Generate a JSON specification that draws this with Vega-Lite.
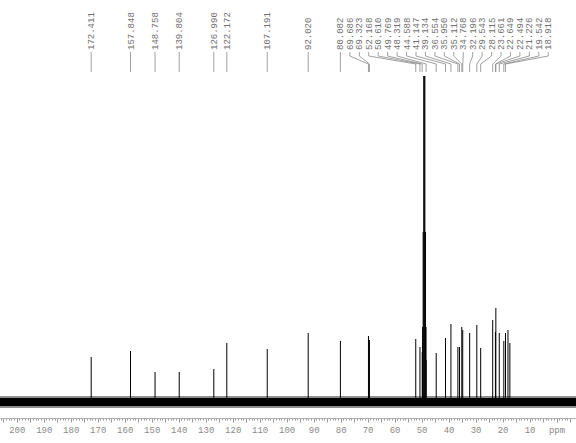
{
  "$schema": "https://vega.github.io/schema/vega-lite/v6.json",
  "width": 576,
  "height": 418,
  "autosize": {"type": "none"},
  "padding": {"left": 0, "top": 0, "right": 0, "bottom": 25},
  "background": "white",
  "config": {"view": {"stroke": null}},
  "data": {
    "values": [
      {"ppm": 172.411, "h": 45, "label": "172.411"},
      {"ppm": 157.848, "h": 51, "label": "157.848"},
      {"ppm": 148.758, "h": 30, "label": "148.758"},
      {"ppm": 139.804, "h": 30, "label": "139.804"},
      {"ppm": 126.99, "h": 33, "label": "126.990"},
      {"ppm": 122.172, "h": 59, "label": "122.172"},
      {"ppm": 107.191, "h": 53, "label": "107.191"},
      {"ppm": 92.02, "h": 69, "label": "92.020"},
      {"ppm": 80.082, "h": 61, "label": "80.082"},
      {"ppm": 69.686, "h": 66, "label": "69.686"},
      {"ppm": 69.323, "h": 62, "label": "69.323"},
      {"ppm": 52.168, "h": 63, "label": "52.168"},
      {"ppm": 50.61, "h": 55, "label": "50.610"},
      {"ppm": 49.769, "h": 50, "label": "49.769"},
      {"ppm": 48.319, "h": 42, "label": "48.319"},
      {"ppm": 44.588, "h": 49, "label": "44.588"},
      {"ppm": 41.147, "h": 64, "label": "41.147"},
      {"ppm": 39.134, "h": 78, "label": "39.134"},
      {"ppm": 36.554, "h": 55, "label": "36.554"},
      {"ppm": 35.95, "h": 55, "label": "35.950"},
      {"ppm": 35.112, "h": 75, "label": "35.112"},
      {"ppm": 34.768, "h": 72, "label": "34.768"},
      {"ppm": 32.196, "h": 69, "label": "32.196"},
      {"ppm": 29.543, "h": 77, "label": "29.543"},
      {"ppm": 28.115, "h": 54, "label": "28.115"},
      {"ppm": 23.661, "h": 82, "label": "23.661"},
      {"ppm": 22.649, "h": 70, "label": "22.649"},
      {"ppm": 22.494, "h": 94, "label": "22.494"},
      {"ppm": 21.226, "h": 69, "label": "21.226"},
      {"ppm": 19.542, "h": 61, "label": "19.542"},
      {"ppm": 18.918, "h": 69, "label": "18.918"},
      {"ppm": 18.0, "h": 72},
      {"ppm": 17.3, "h": 59},
      {"ppm": 49.64, "h": 75},
      {"ppm": 49.43, "h": 170},
      {"ppm": 49.21, "h": 326},
      {"ppm": 49.0, "h": 326},
      {"ppm": 48.79, "h": 326},
      {"ppm": 48.57, "h": 170},
      {"ppm": 48.36, "h": 75}
    ]
  },
  "layer": [
    {
      "data": {"values": [{}]},
      "mark": {"type": "rule", "strokeWidth": 12, "color": "#333333", "opacity": 0.55},
      "encoding": {
        "y": {"datum": 0, "type": "quantitative", "scale": {"domain": [-16, 402], "nice": false, "zero": false}, "axis": null}
      }
    },
    {
      "data": {"values": [{}]},
      "mark": {"type": "rule", "strokeWidth": 8, "color": "#000000"},
      "encoding": {
        "y": {"datum": 0, "type": "quantitative", "scale": {"domain": [-16, 402], "nice": false, "zero": false}, "axis": null}
      }
    },
    {
      "transform": [{"calculate": "0", "as": "base"}],
      "mark": {"type": "rule", "strokeWidth": 1, "color": "#000000"},
      "encoding": {
        "x": {
          "field": "ppm", "type": "quantitative",
          "scale": {"domain": [206.2, -7.2], "nice": false, "zero": false},
          "axis": {"title": null, "values": [-5,-4,-3,-2,-1,0,1,2,3,4,5,6,7,8,9,10,11,12,13,14,15,16,17,18,19,20,21,22,23,24,25,26,27,28,29,30,31,32,33,34,35,36,37,38,39,40,41,42,43,44,45,46,47,48,49,50,51,52,53,54,55,56,57,58,59,60,61,62,63,64,65,66,67,68,69,70,71,72,73,74,75,76,77,78,79,80,81,82,83,84,85,86,87,88,89,90,91,92,93,94,95,96,97,98,99,100,101,102,103,104,105,106,107,108,109,110,111,112,113,114,115,116,117,118,119,120,121,122,123,124,125,126,127,128,129,130,131,132,133,134,135,136,137,138,139,140,141,142,143,144,145,146,147,148,149,150,151,152,153,154,155,156,157,158,159,160,161,162,163,164,165,166,167,168,169,170,171,172,173,174,175,176,177,178,179,180,181,182,183,184,185,186,187,188,189,190,191,192,193,194,195,196,197,198,199,200,201,202,203,204,205,206], "labelExpr": "datum.value % 10 === 0 ? (datum.value === 0 ? 'ppm' : datum.label) : ''", "labelOverlap": false, "labelFlush": false, "labelBound": false, "labelFont": "Liberation Mono", "labelFontSize": 9, "labelColor": "#8a8a8a", "labelPadding": 3, "tickColor": "#9a9a9a", "tickSize": {"condition": {"test": "datum.value % 5 === 0", "value": 4}, "value": 2}, "domainColor": "#b0b0b0", "grid": false}
        },
        "y": {"field": "h", "type": "quantitative", "scale": {"domain": [-16, 402], "nice": false, "zero": false}, "axis": null},
        "y2": {"field": "base"}
      }
    },
    {
      "transform": [
        {"filter": "isValid(datum.label)"},
        {"window": [{"op": "row_number", "as": "rn"}], "sort": [{"field": "ppm", "order": "descending"}]},
        {"calculate": "datum.ppm > 85 ? datum.ppm : 80.082 - 3.5 * (datum.rn - 9)", "as": "lx"},
        {"calculate": "352", "as": "yt"},
        {"calculate": "350", "as": "ya"},
        {"calculate": "346", "as": "yb"},
        {"calculate": "338", "as": "yc"},
        {"calculate": "330", "as": "yd"}
      ],
      "layer": [
        {
          "mark": {"type": "rule", "strokeWidth": 0.8, "color": "#8a8a8a"},
          "encoding": {
            "x": {"field": "lx", "type": "quantitative", "scale": {"domain": [206.2, -7.2], "nice": false, "zero": false},
              "axis": {"title": null, "values": [-5,-4,-3,-2,-1,0,1,2,3,4,5,6,7,8,9,10,11,12,13,14,15,16,17,18,19,20,21,22,23,24,25,26,27,28,29,30,31,32,33,34,35,36,37,38,39,40,41,42,43,44,45,46,47,48,49,50,51,52,53,54,55,56,57,58,59,60,61,62,63,64,65,66,67,68,69,70,71,72,73,74,75,76,77,78,79,80,81,82,83,84,85,86,87,88,89,90,91,92,93,94,95,96,97,98,99,100,101,102,103,104,105,106,107,108,109,110,111,112,113,114,115,116,117,118,119,120,121,122,123,124,125,126,127,128,129,130,131,132,133,134,135,136,137,138,139,140,141,142,143,144,145,146,147,148,149,150,151,152,153,154,155,156,157,158,159,160,161,162,163,164,165,166,167,168,169,170,171,172,173,174,175,176,177,178,179,180,181,182,183,184,185,186,187,188,189,190,191,192,193,194,195,196,197,198,199,200,201,202,203,204,205,206], "labelExpr": "datum.value % 10 === 0 ? (datum.value === 0 ? 'ppm' : datum.label) : ''", "labelOverlap": false, "labelFlush": false, "labelBound": false, "labelFont": "Liberation Mono", "labelFontSize": 9, "labelColor": "#8a8a8a", "labelPadding": 3, "tickColor": "#9a9a9a", "tickSize": {"condition": {"test": "datum.value % 5 === 0", "value": 4}, "value": 2}, "domainColor": "#b0b0b0", "grid": false}},
            "y": {"field": "ya", "type": "quantitative", "scale": {"domain": [-16, 402], "nice": false, "zero": false}, "axis": null},
            "y2": {"field": "yb"}
          }
        },
        {
          "mark": {"type": "rule", "strokeWidth": 0.8, "color": "#8a8a8a"},
          "encoding": {
            "x": {"field": "lx", "type": "quantitative", "scale": {"domain": [206.2, -7.2], "nice": false, "zero": false},
              "axis": {"title": null, "values": [-5,-4,-3,-2,-1,0,1,2,3,4,5,6,7,8,9,10,11,12,13,14,15,16,17,18,19,20,21,22,23,24,25,26,27,28,29,30,31,32,33,34,35,36,37,38,39,40,41,42,43,44,45,46,47,48,49,50,51,52,53,54,55,56,57,58,59,60,61,62,63,64,65,66,67,68,69,70,71,72,73,74,75,76,77,78,79,80,81,82,83,84,85,86,87,88,89,90,91,92,93,94,95,96,97,98,99,100,101,102,103,104,105,106,107,108,109,110,111,112,113,114,115,116,117,118,119,120,121,122,123,124,125,126,127,128,129,130,131,132,133,134,135,136,137,138,139,140,141,142,143,144,145,146,147,148,149,150,151,152,153,154,155,156,157,158,159,160,161,162,163,164,165,166,167,168,169,170,171,172,173,174,175,176,177,178,179,180,181,182,183,184,185,186,187,188,189,190,191,192,193,194,195,196,197,198,199,200,201,202,203,204,205,206], "labelExpr": "datum.value % 10 === 0 ? (datum.value === 0 ? 'ppm' : datum.label) : ''", "labelOverlap": false, "labelFlush": false, "labelBound": false, "labelFont": "Liberation Mono", "labelFontSize": 9, "labelColor": "#8a8a8a", "labelPadding": 3, "tickColor": "#9a9a9a", "tickSize": {"condition": {"test": "datum.value % 5 === 0", "value": 4}, "value": 2}, "domainColor": "#b0b0b0", "grid": false}},
            "x2": {"field": "ppm"},
            "y": {"field": "yb", "type": "quantitative", "scale": {"domain": [-16, 402], "nice": false, "zero": false}, "axis": null},
            "y2": {"field": "yc"}
          }
        },
        {
          "mark": {"type": "rule", "strokeWidth": 0.8, "color": "#8a8a8a"},
          "encoding": {
            "x": {"field": "ppm", "type": "quantitative", "scale": {"domain": [206.2, -7.2], "nice": false, "zero": false},
              "axis": {"title": null, "values": [-5,-4,-3,-2,-1,0,1,2,3,4,5,6,7,8,9,10,11,12,13,14,15,16,17,18,19,20,21,22,23,24,25,26,27,28,29,30,31,32,33,34,35,36,37,38,39,40,41,42,43,44,45,46,47,48,49,50,51,52,53,54,55,56,57,58,59,60,61,62,63,64,65,66,67,68,69,70,71,72,73,74,75,76,77,78,79,80,81,82,83,84,85,86,87,88,89,90,91,92,93,94,95,96,97,98,99,100,101,102,103,104,105,106,107,108,109,110,111,112,113,114,115,116,117,118,119,120,121,122,123,124,125,126,127,128,129,130,131,132,133,134,135,136,137,138,139,140,141,142,143,144,145,146,147,148,149,150,151,152,153,154,155,156,157,158,159,160,161,162,163,164,165,166,167,168,169,170,171,172,173,174,175,176,177,178,179,180,181,182,183,184,185,186,187,188,189,190,191,192,193,194,195,196,197,198,199,200,201,202,203,204,205,206], "labelExpr": "datum.value % 10 === 0 ? (datum.value === 0 ? 'ppm' : datum.label) : ''", "labelOverlap": false, "labelFlush": false, "labelBound": false, "labelFont": "Liberation Mono", "labelFontSize": 9, "labelColor": "#8a8a8a", "labelPadding": 3, "tickColor": "#9a9a9a", "tickSize": {"condition": {"test": "datum.value % 5 === 0", "value": 4}, "value": 2}, "domainColor": "#b0b0b0", "grid": false}},
            "y": {"field": "yc", "type": "quantitative", "scale": {"domain": [-16, 402], "nice": false, "zero": false}, "axis": null},
            "y2": {"field": "yd"}
          }
        },
        {
          "mark": {"type": "text", "angle": 270, "align": "left", "baseline": "middle", "font": "Liberation Mono", "fontSize": 9, "color": "#707070"},
          "encoding": {
            "x": {"field": "lx", "type": "quantitative", "scale": {"domain": [206.2, -7.2], "nice": false, "zero": false},
              "axis": {"title": null, "values": [-5,-4,-3,-2,-1,0,1,2,3,4,5,6,7,8,9,10,11,12,13,14,15,16,17,18,19,20,21,22,23,24,25,26,27,28,29,30,31,32,33,34,35,36,37,38,39,40,41,42,43,44,45,46,47,48,49,50,51,52,53,54,55,56,57,58,59,60,61,62,63,64,65,66,67,68,69,70,71,72,73,74,75,76,77,78,79,80,81,82,83,84,85,86,87,88,89,90,91,92,93,94,95,96,97,98,99,100,101,102,103,104,105,106,107,108,109,110,111,112,113,114,115,116,117,118,119,120,121,122,123,124,125,126,127,128,129,130,131,132,133,134,135,136,137,138,139,140,141,142,143,144,145,146,147,148,149,150,151,152,153,154,155,156,157,158,159,160,161,162,163,164,165,166,167,168,169,170,171,172,173,174,175,176,177,178,179,180,181,182,183,184,185,186,187,188,189,190,191,192,193,194,195,196,197,198,199,200,201,202,203,204,205,206], "labelExpr": "datum.value % 10 === 0 ? (datum.value === 0 ? 'ppm' : datum.label) : ''", "labelOverlap": false, "labelFlush": false, "labelBound": false, "labelFont": "Liberation Mono", "labelFontSize": 9, "labelColor": "#8a8a8a", "labelPadding": 3, "tickColor": "#9a9a9a", "tickSize": {"condition": {"test": "datum.value % 5 === 0", "value": 4}, "value": 2}, "domainColor": "#b0b0b0", "grid": false}},
            "y": {"field": "yt", "type": "quantitative", "scale": {"domain": [-16, 402], "nice": false, "zero": false}, "axis": null},
            "text": {"field": "label"}
          }
        }
      ]
    }
  ]
}
